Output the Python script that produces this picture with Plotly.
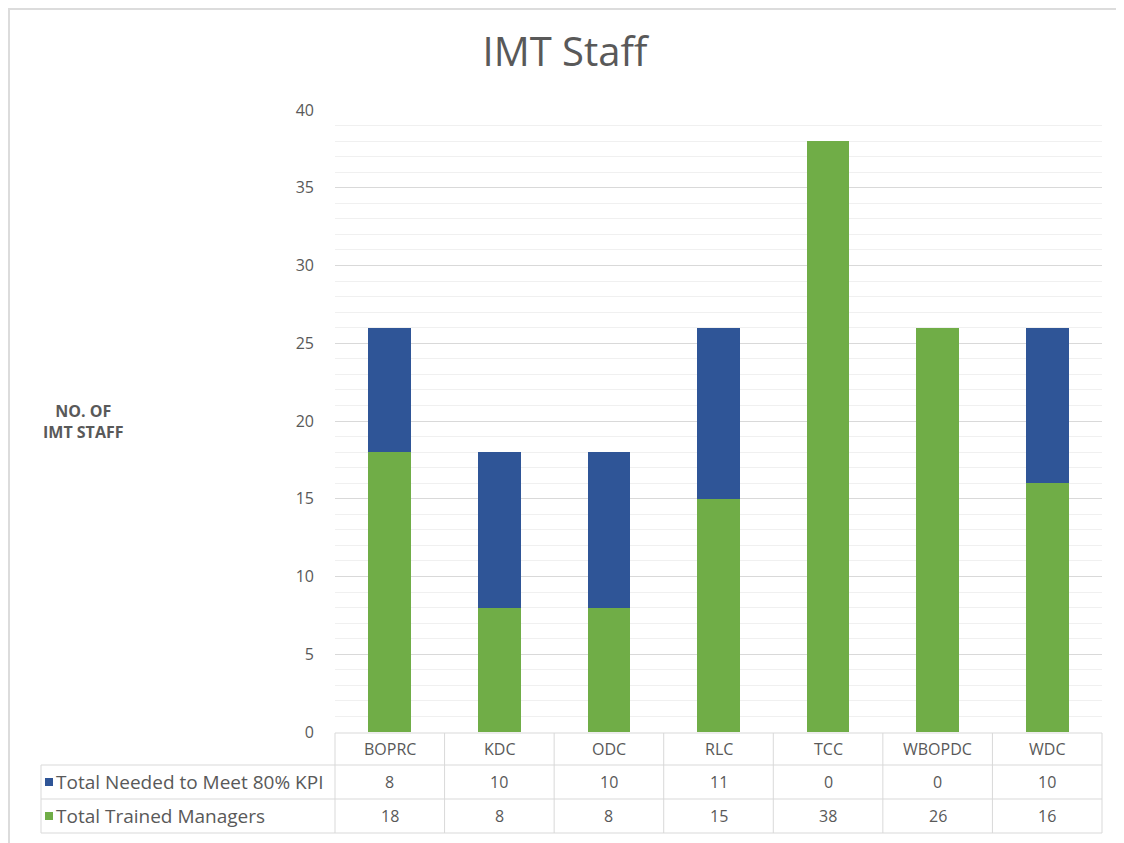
import plotly.graph_objects as go

categories = ["BOPRC", "KDC", "ODC", "RLC", "TCC", "WBOPDC", "WDC"]
trained = [18, 8, 8, 15, 38, 26, 16]
needed = [8, 10, 10, 11, 0, 0, 10]
series_names = ["Total Needed to Meet 80% KPI", "Total Trained Managers"]
y_ticks = [0, 5, 10, 15, 20, 25, 30, 35, 40]

GREEN = "#70ad47"
BLUE = "#2f5597"
TXT = "#595959"
LINE = "#d9d9d9"
FONT = "Open Sans"

# the page has an 8px body margin, so the figure is a bit smaller than the window
OFF = 8
W, H = 1124 - OFF, 843 - OFF
PX0, PX1, PY0, PY1 = 335, 1102, 110, 732   # plot area in window pixels
PW, PH = PX1 - PX0, PY1 - PY0


# window pixel -> paper helpers for the data table below the plot
def px(x):
    return (x - PX0) / PW


def py(y):
    return (PY1 - y) / PH


fig = go.Figure()
fig.add_trace(go.Bar(x=categories, y=trained, name=series_names[1],
                     marker=dict(color=GREEN, line=dict(width=0))))
fig.add_trace(go.Bar(x=categories, y=needed, name=series_names[0],
                     marker=dict(color=BLUE, line=dict(width=0))))

shapes = []
annotations = []

# outer chart border (left and top edges)
shapes.append(dict(type="rect", xref="paper", yref="paper",
                   x0=px(9), x1=px(1140), y0=py(9), y1=py(870),
                   line=dict(color="#dcdcdc", width=2), layer="below"))

# data table
rows_y = [733, 765, 799, 833]
n = len(categories)
for i, yy in enumerate(rows_y):
    x0 = px(41) if i > 0 else 0
    shapes.append(dict(type="line", xref="paper", yref="paper",
                       x0=x0, x1=1, y0=py(yy), y1=py(yy),
                       line=dict(color=LINE, width=1)))
for k in range(n + 1):
    shapes.append(dict(type="line", xref="paper", yref="paper",
                       x0=k / n, x1=k / n, y0=py(rows_y[0]), y1=py(rows_y[-1]),
                       line=dict(color=LINE, width=1)))
shapes.append(dict(type="line", xref="paper", yref="paper",
                   x0=px(41), x1=px(41), y0=py(rows_y[1]), y1=py(rows_y[-1]),
                   line=dict(color=LINE, width=1)))

row_vals = [needed, trained]
row_cols = [BLUE, GREEN]
cell_font = dict(size=16, color=TXT)
for j, c in enumerate(categories):
    annotations.append(dict(x=c, xref="x", y=py((rows_y[0] + rows_y[1]) / 2),
                            yref="paper", xanchor="center", yanchor="middle",
                            text=c, showarrow=False, font=cell_font))
for r in range(2):
    yc = py((rows_y[r + 1] + rows_y[r + 2]) / 2)
    for j, c in enumerate(categories):
        annotations.append(dict(x=c, xref="x", y=yc, yref="paper",
                                xanchor="center", yanchor="middle",
                                text=str(row_vals[r][j]), showarrow=False,
                                font=cell_font))
    shapes.append(dict(type="rect", xref="paper", yref="paper",
                       x0=px(45), x1=px(53),
                       y0=yc - 4 / PH, y1=yc + 4 / PH,
                       fillcolor=row_cols[r], line=dict(width=0)))
    annotations.append(dict(x=px(54), xref="paper", y=yc, yref="paper",
                            xanchor="left", yanchor="middle",
                            text=series_names[r], showarrow=False,
                            font=dict(size=19, color=TXT)))

# y axis title
annotations.append(dict(x=px(83), xref="paper", y=py(421), yref="paper",
                        xanchor="center", yanchor="middle",
                        text="<b>NO. OF<br>IMT STAFF</b>", showarrow=False,
                        align="center", font=dict(size=16, color=TXT)))

fig.update_layout(
    width=W, height=H,
    margin=dict(l=PX0 - OFF, r=1124 - PX1, t=PY0 - OFF, b=843 - PY1),
    paper_bgcolor="white", plot_bgcolor="white",
    barmode="stack", bargap=0.61,
    showlegend=False,
    font=dict(family=FONT, color=TXT),
    title=dict(text="IMT Staff", x=(565 - OFF) / W, xanchor="center",
               y=1 - (52 - OFF) / H, yanchor="middle", yref="container",
               font=dict(size=40, color=TXT, family=FONT)),
    shapes=shapes,
    annotations=annotations,
)
fig.update_xaxes(showticklabels=False, showgrid=False, zeroline=False,
                 showline=False)
fig.update_yaxes(range=[0, 40], tickvals=y_ticks, showline=False,
                 gridcolor=LINE, gridwidth=1, zeroline=False,
                 tickfont=dict(size=16, color=TXT), ticklabelstandoff=20,
                 minor=dict(dtick=1, showgrid=True, gridcolor="#f0f0f0",
                            gridwidth=1))

fig.write_html("out.html")
